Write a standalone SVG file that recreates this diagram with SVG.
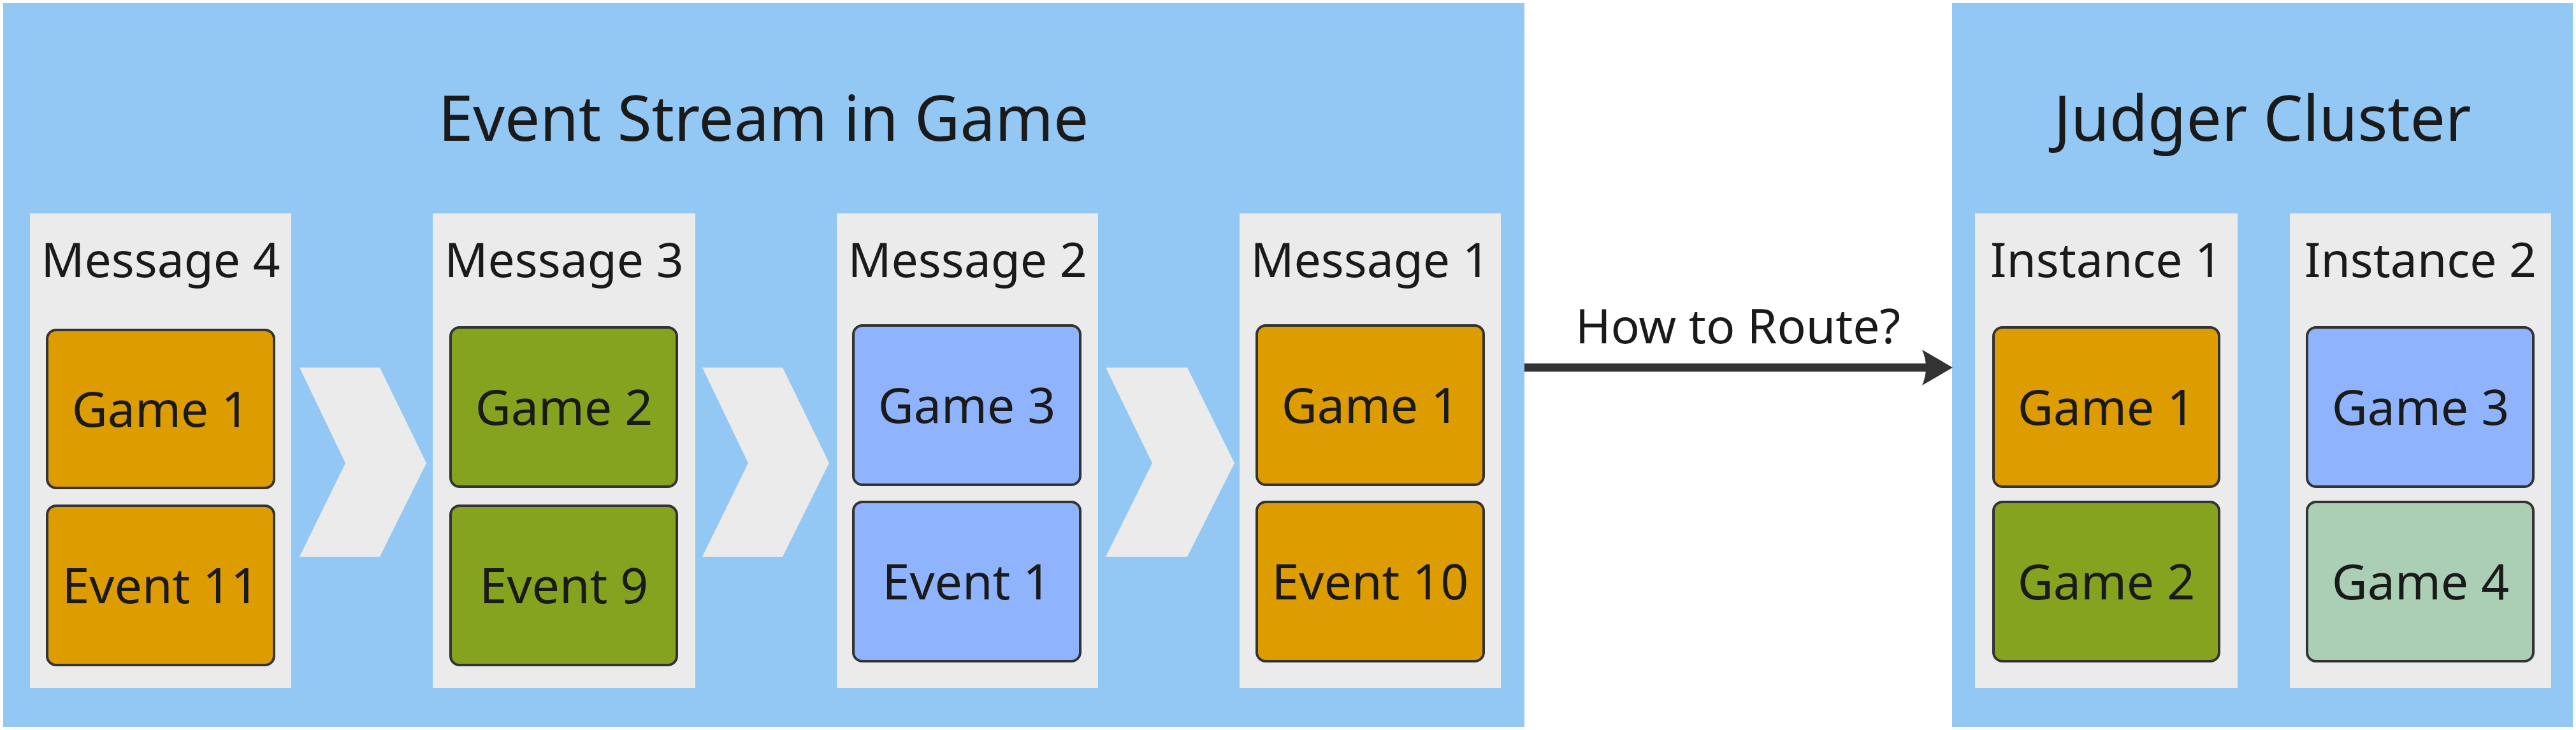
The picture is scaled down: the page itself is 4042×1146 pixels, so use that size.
<svg xmlns="http://www.w3.org/2000/svg" width="4042" height="1146" viewBox="0 0 4042 1146">
<style>
  text { font-family: "Noto Sans", "Open Sans", "DejaVu Sans", sans-serif; fill: #1a1a1a; text-anchor: middle; }
  .cluster { fill: #93c7f4; }
  .group { fill: #ebebeb; }
  .title { font-size: 98px; }
  .glabel { font-size: 75px; }
  .node { stroke: #333333; stroke-width: 4; }
  .nlabel { font-size: 77px; }
  .orange { fill: #dd9c00; }
  .green { fill: #85a31e; }
  .blue { fill: #8fb3fc; }
  .mint { fill: #aacfb5; }
  .chev { fill: #ebebeb; }
</style>
<g id="event-stream">
  <rect class="cluster" x="5" y="5" width="2387" height="1136"/>
  <text class="title" x="1198" y="221">Event Stream in Game</text>
</g>
<g id="judger-cluster">
  <rect class="cluster" x="3063" y="5" width="974" height="1136"/>
  <text class="title" x="3550" y="221">Judger Cluster</text>
</g>
<g id="message-4">
  <rect class="group" x="47" y="335" width="410" height="745"/>
  <text class="glabel" x="252" y="435">Message 4</text>
</g>
<g id="m4-game1">
  <rect class="node orange" x="74" y="518" width="356" height="248" rx="14"/>
  <text class="nlabel" x="252" y="670">Game 1</text>
</g>
<g id="m4-event11">
  <rect class="node orange" x="74" y="794" width="356" height="250" rx="14"/>
  <text class="nlabel" x="252" y="947">Event 11</text>
</g>
<g id="message-3">
  <rect class="group" x="679" y="335" width="412" height="745"/>
  <text class="glabel" x="885" y="435">Message 3</text>
</g>
<g id="m3-game2">
  <rect class="node green" x="707" y="514" width="355" height="250" rx="14"/>
  <text class="nlabel" x="885" y="667">Game 2</text>
</g>
<g id="m3-event9">
  <rect class="node green" x="707" y="794" width="355" height="250" rx="14"/>
  <text class="nlabel" x="885" y="947">Event 9</text>
</g>
<g id="message-2">
  <rect class="group" x="1313" y="335" width="410" height="745"/>
  <text class="glabel" x="1518" y="435">Message 2</text>
</g>
<g id="m2-game3">
  <rect class="node blue" x="1339" y="511" width="356" height="250" rx="14"/>
  <text class="nlabel" x="1517" y="664">Game 3</text>
</g>
<g id="m2-event1">
  <rect class="node blue" x="1339" y="788" width="356" height="250" rx="14"/>
  <text class="nlabel" x="1517" y="941">Event 1</text>
</g>
<g id="message-1">
  <rect class="group" x="1945" y="335" width="410" height="745"/>
  <text class="glabel" x="2150" y="435">Message 1</text>
</g>
<g id="m1-game1">
  <rect class="node orange" x="1972" y="511" width="356" height="250" rx="14"/>
  <text class="nlabel" x="2150" y="664">Game 1</text>
</g>
<g id="m1-event10">
  <rect class="node orange" x="1972" y="788" width="356" height="250" rx="14"/>
  <text class="nlabel" x="2150" y="941">Event 10</text>
</g>
<g id="instance-1">
  <rect class="group" x="3099" y="335" width="412" height="745"/>
  <text class="glabel" x="3305" y="435">Instance 1</text>
</g>
<g id="i1-game1">
  <rect class="node orange" x="3128" y="514" width="354" height="250" rx="14"/>
  <text class="nlabel" x="3305" y="667">Game 1</text>
</g>
<g id="i1-game2">
  <rect class="node green" x="3128" y="788" width="354" height="250" rx="14"/>
  <text class="nlabel" x="3305" y="941">Game 2</text>
</g>
<g id="instance-2">
  <rect class="group" x="3593" y="335" width="410" height="745"/>
  <text class="glabel" x="3798" y="435">Instance 2</text>
</g>
<g id="i2-game3">
  <rect class="node blue" x="3620" y="514" width="355" height="250" rx="14"/>
  <text class="nlabel" x="3798" y="667">Game 3</text>
</g>
<g id="i2-game4">
  <rect class="node mint" x="3620" y="788" width="355" height="250" rx="14"/>
  <text class="nlabel" x="3798" y="941">Game 4</text>
</g>
<g id="connectors">
  <polygon class="chev" points="470,577 596,577 669,727 596,874 470,874 542,727"/>
  <polygon class="chev" points="1102,577 1228,577 1301,727 1228,874 1102,874 1174,727"/>
  <polygon class="chev" points="1735,577 1863,577 1937,727 1863,874 1735,874 1808,727"/>
  <line x1="2392" y1="577" x2="3025" y2="577" stroke="#333333" stroke-width="13"/>
  <path d="M3064,577 L3016,549 Q3028,577 3016,605 Z" fill="#333333"/>
  <text class="glabel" x="2727" y="539">How to Route?</text>
</g>
</svg>
